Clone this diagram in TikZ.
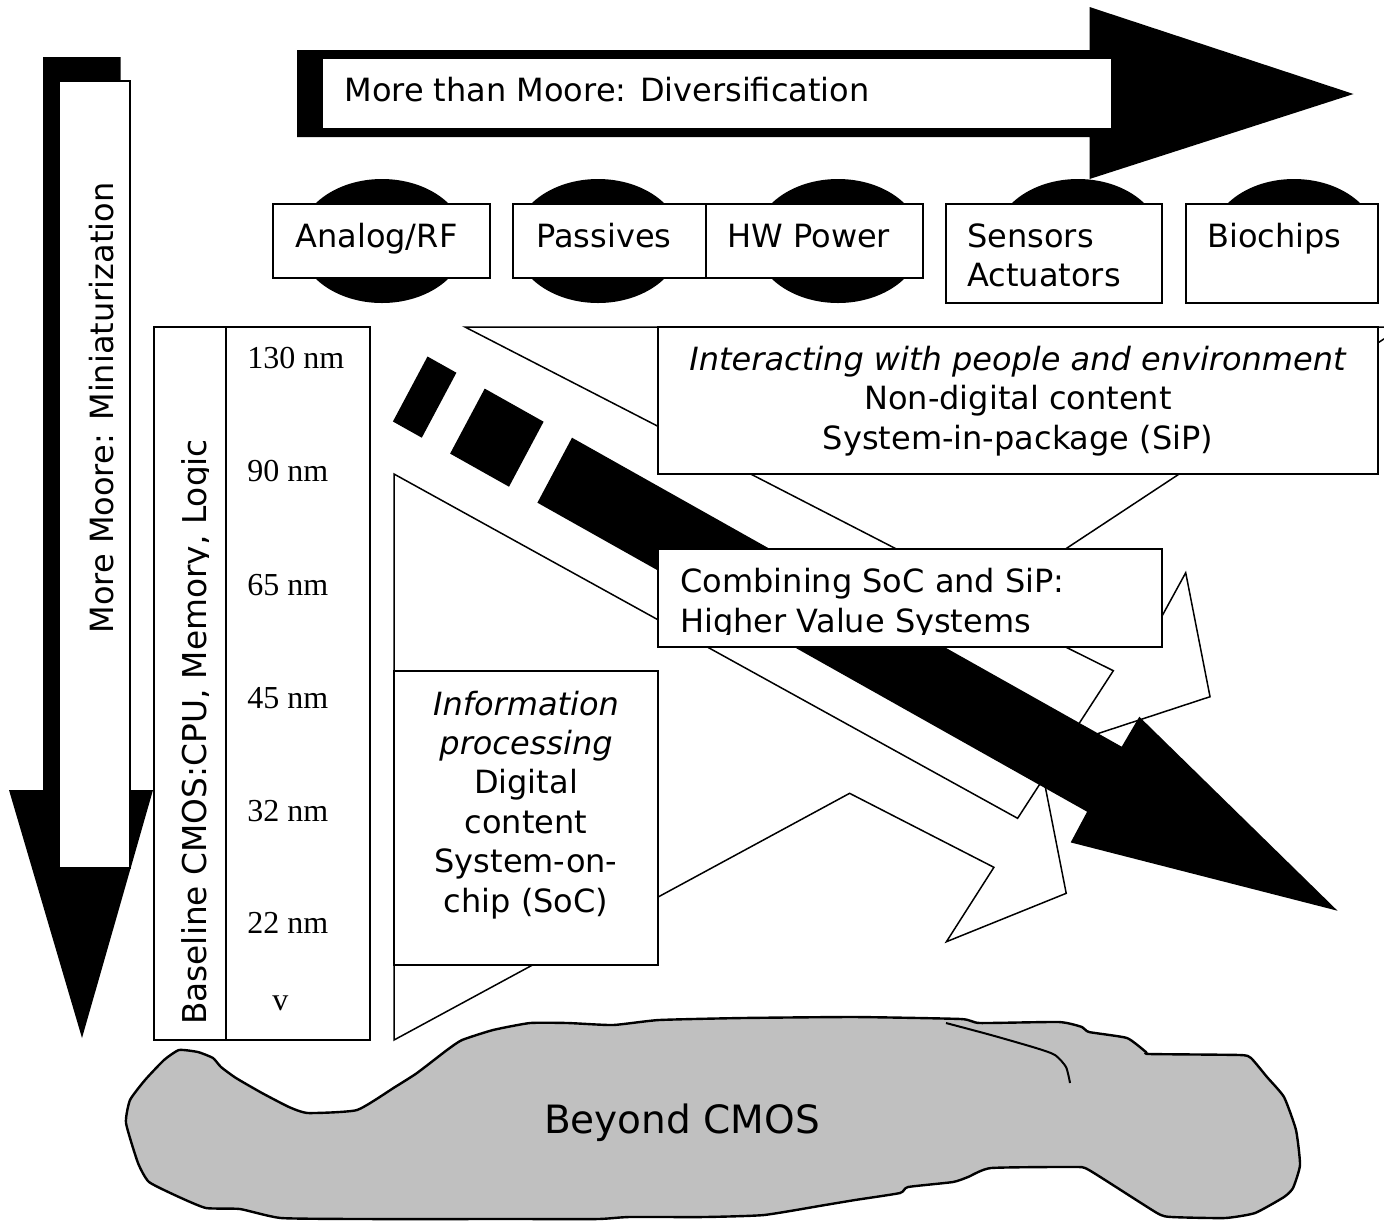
\documentclass[tikz,border=0pt]{standalone}
\usepackage{fontspec}
\setmainfont{DejaVu Sans}
\newfontfamily\nmfont{Liberation Serif}
\usetikzlibrary{shapes.geometric,fit}
\definecolor{blobgray}{HTML}{C0C0C0}
\tikzset{
  box/.style={draw=black, fill=white, line width=1pt, inner sep=0pt},
  wline/.style={draw=black, line width=0.75pt, line join=miter},
  lbl/.style={inner sep=0pt, font=\fontsize{16}{19.7}\selectfont},
  nmlbl/.style={inner sep=0pt, anchor=base west, font=\nmfont\fontsize{16}{19.7}\selectfont},
  blk/.style={fill=black},
  pod/.style={ellipse, fill=black, minimum width=83.5pt, minimum height=62pt, inner sep=0pt},
}
\begin{document}
\begin{tikzpicture}[x=0.5pt,y=-0.5pt]
\useasboundingbox (0,0) rectangle (1384,1222);
\clip (0,0) rectangle (1384,1222);

% ---------- white arrows (outlines) ----------
\draw[wline] (960,581.7) -- (897,549.3) -- (465,327) -- (1402,327) -- (1065,549.3) -- (988,600);
\draw[wline] (1030,629.3) -- (1113.3,670.7) -- (1017.6,818.3) -- (394,474) -- (394,1040)
   -- (849.6,793.3) -- (993.9,867.3) -- (946.4,941.7) -- (1066.2,893.3) -- (1040,760);
\draw[wline] (1150,638) -- (1185.7,572.7) -- (1210,696.7) -- (1098.7,733.3) -- (1075,741);

% ---------- black dashed diagonal arrow ----------
\fill[blk] (427.5,356.5) -- (456.4,372.7) -- (421.8,437.7) -- (392.9,421.5) -- cycle;
\fill[blk] (484.7,388.6) -- (543.6,421.7) -- (509.0,486.7) -- (450.1,453.6) -- cycle;
\fill[blk] (572,437.7) -- (1121.7,746.7) -- (1139.3,716.7) -- (1337.5,910.7)
   -- (1070.7,842.4) -- (1087.1,811.7) -- (537.4,502.7) -- cycle;

% ---------- centre boxes ----------
\path (657.7,327) coordinate (intA) (1378,474) coordinate (intB);
\node[box, fit=(intA)(intB)] (interact) {};
\node[lbl, align=center, anchor=base] (interacttxt) at (1018,449)
  {\textit{Interacting with people and environment}\\Non-digital content\\System-in-package (SiP)};

\path (657.7,549) coordinate (comA) (1161.7,647) coordinate (comB);
\node[box, fit=(comA)(comB)] (combine) {};
\begin{scope}
  \clip (657.7,549) rectangle (1161.7,634.5);
  \node[lbl, align=left, anchor=base west] (combinetxt) at (680,632)
    {Combining SoC and SiP:\\Higher Value Systems};
\end{scope}

\path (394,671) coordinate (infA) (657.8,965) coordinate (infB);
\node[box, fit=(infA)(infB)] (info) {};
\node[lbl, align=center, anchor=base] (infotxt) at (526,912)
  {\textit{Information}\\\textit{processing}\\Digital\\content\\System-on-\\chip (SoC)};

% ---------- baseline CMOS column ----------
\path (153.6,327) coordinate (bcA) (226.4,1040) coordinate (bcB) (369.6,1040) coordinate (bcC);
\node[box, fit=(bcA)(bcB)] (basecol) {};
\path (226.4,327) coordinate (ndA);
\node[box, fit=(ndA)(bcC)] (nodecol) {};
\begin{scope}
  \clip (150,320) rectangle (208,1045);
  \node[lbl, rotate=90, anchor=base, font=\fontsize{16.4}{20}\selectfont] (basetxt) at (206.7,732)
    {Baseline CMOS:CPU, Memory, Logic};
\end{scope}
\node[nmlbl] (n130) at (247,368) {130 nm};
\node[nmlbl] (n90) at (247,481) {90 nm};
\node[nmlbl] (n65) at (247,595) {65 nm};
\node[nmlbl] (n45) at (247,708) {45 nm};
\node[nmlbl] (n32) at (247,821) {32 nm};
\node[nmlbl] (n22) at (247,933) {22 nm};
\node[nmlbl] (nv) at (272,1010) {v};

% ---------- More Moore vertical arrow ----------
\fill[blk] (43,57) -- (120.5,57) -- (120.5,790) -- (153,790) -- (82,1038) -- (9,790) -- (43,790) -- cycle;
\path (58.5,81) coordinate (mmA) (130,868) coordinate (mmB);
\node[box, fit=(mmA)(mmB)] (mmbox) {};
\node[lbl, rotate=90, anchor=base] (mmtxt) at (113,408) {More Moore: Miniaturization};

% ---------- More than Moore horizontal arrow ----------
\fill[blk] (297,50) -- (1089.5,50) -- (1089.5,7) -- (1353.5,94) -- (1089.5,179) -- (1089.5,137) -- (297,137) -- cycle;
\path (322,58) coordinate (mtA) (1112,129) coordinate (mtB);
\node[box, fit=(mtA)(mtB)] (mtbox) {};
\node[lbl, anchor=base west] (mttxt) at (344,101) {More than Moore: Diversification};

% ---------- top row ----------
\node[pod] (e1) at (382,241) {};
\node[pod] (e2) at (598,241) {};
\node[pod] (e3) at (838,241) {};
\node[pod] (e4) at (1078,241) {};
\node[pod] (e5) at (1294,241) {};

\path (273,204) coordinate (t1A) (490,278) coordinate (t1B);
\node[box, fit=(t1A)(t1B)] (analog) {};
\node[lbl, anchor=base west] (analogtxt) at (295,247) {Analog/RF};

\path (513,204) coordinate (t2A) (705.6,278) coordinate (t2B);
\node[box, fit=(t2A)(t2B)] (passives) {};
\node[lbl, anchor=base west] (passivestxt) at (536,247) {Passives};

\path (705.6,204) coordinate (t3A) (922.5,278) coordinate (t3B);
\node[box, fit=(t3A)(t3B)] (hwpower) {};
\node[lbl, anchor=base west] (hwpowertxt) at (727,247) {HW Power};

\path (946,204) coordinate (t4A) (1162,303) coordinate (t4B);
\node[box, fit=(t4A)(t4B)] (sensors) {};
\node[lbl, align=left, anchor=base west] (sensorstxt) at (967,286.5) {Sensors\\Actuators};

\path (1186,204) coordinate (t5A) (1378,303) coordinate (t5B);
\node[box, fit=(t5A)(t5B)] (biochips) {};
\node[lbl, anchor=base west] (biochipstxt) at (1207,247) {Biochips};

% ---------- Beyond CMOS blob ----------
\filldraw[fill=blobgray, draw=black, line width=1.2pt]
  plot[smooth cycle, tension=0.3] coordinates {
  (179,1050) (198,1052) (213,1058) (221,1067) (236,1078) (262,1093) (289,1107) (308,1113)
  (357,1110) (395,1087) (417,1073) (447,1050) (462,1040) (493,1030) (530,1023) (568,1023)
  (613,1025) (659,1020) (742,1018) (855,1017) (961,1019) (980,1023) (1059,1022) (1082,1027)
  (1089,1032) (1127,1038) (1146,1052) (1150,1054) (1240,1055) (1251,1058) (1267,1077)
  (1284,1097) (1296,1130) (1300,1165) (1293,1188) (1284,1197) (1255,1213) (1225,1218)
  (1172,1217) (1157,1213) (1089,1170) (1074,1167) (991,1168) (968,1177) (953,1182)
  (908,1187) (900,1193) (855,1200) (825,1205) (764,1215) (704,1217) (629,1217) (598,1219)
  (515,1219) (364,1219) (281,1218) (240,1209) (206,1208) (179,1197) (149,1182) (138,1163)
  (126,1123) (130,1100) (145,1080) (164,1060)};
\draw[line width=1pt] plot[smooth, tension=0.4] coordinates {
  (946,1023) (991,1035) (1036,1048) (1055,1055) (1066,1067) (1070,1083)};
\node[inner sep=0pt, anchor=base, font=\fontsize{19.5}{23}\selectfont] (beyond) at (682,1133) {Beyond CMOS};
\end{tikzpicture}
\end{document}
